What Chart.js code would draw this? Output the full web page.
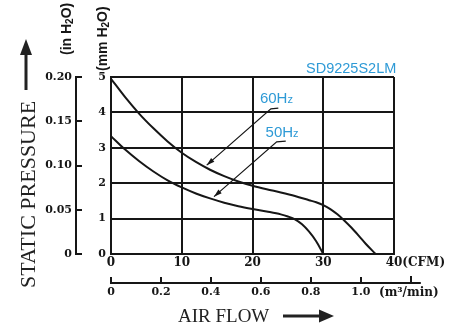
<!DOCTYPE html>
<html>
<head>
<meta charset="utf-8">
<script src="https://cdn.jsdelivr.net/npm/chart.js@4.4.1/dist/chart.umd.min.js"></script>
<style>
  html, body { margin: 0; padding: 0; background: #fff; }
</style>
</head>
<body>
<canvas id="pq" width="465" height="328"></canvas>
<script>
// P-Q curves for the SD9225S2LM fan, 60 Hz and 50 Hz supply
const flow60 = [0, 2, 4, 6, 8, 10, 12, 14, 16, 18, 20, 22, 24, 26, 28, 29, 30, 31, 32, 33, 34, 35, 36, 37.4];
const press60 = [4.95, 4.43, 3.96, 3.55, 3.18, 2.86, 2.6, 2.38, 2.2, 2.05, 1.93, 1.83, 1.74, 1.64, 1.52, 1.46, 1.38, 1.27, 1.12, 0.94, 0.74, 0.52, 0.29, 0];
const flow50 = [0, 2, 4, 6, 8, 10, 12, 14, 16, 18, 20, 22, 24, 25, 26, 27, 28, 29, 30];
const press50 = [3.33, 2.95, 2.62, 2.33, 2.08, 1.88, 1.71, 1.57, 1.45, 1.35, 1.27, 1.2, 1.12, 1.06, 0.98, 0.84, 0.63, 0.36, 0];

const cfmTicks = [0, 10, 20, 30, 40];
const m3Ticks = [0, 0.2, 0.4, 0.6, 0.8, 1.0];
const mmTicks = [0, 1, 2, 3, 4, 5];
const inchTicks = [0, 0.05, 0.10, 0.15, 0.20];

const CFM_PER_M3 = 35.315;
const ink = '#161616';
const blue = '#2e9ad6';
const serifBold = { family: 'DejaVu Serif', weight: 'bold' };

const toPoints = (xs, ys) => xs.map((x, i) => ({ x, y: ys[i] }));
const fixed = (vals) => (s) => { s.ticks = vals.map((v) => ({ value: v })); };

// text drawn along the vertical, reading bottom to top
function upText(ctx, parts, x, y) {
  ctx.save();
  ctx.translate(x, y);
  ctx.rotate(-Math.PI / 2);
  let cx = 0;
  parts.forEach((p) => {
    ctx.font = p.font;
    ctx.fillText(p.text, cx, p.dy || 0);
    cx += ctx.measureText(p.text).width;
  });
  ctx.restore();
}

function arrowHead(ctx, fromX, fromY, toX, toY, len, half) {
  const a = Math.atan2(toY - fromY, toX - fromX);
  ctx.beginPath();
  ctx.moveTo(toX, toY);
  ctx.lineTo(toX - len * Math.cos(a) + half * Math.sin(a), toY - len * Math.sin(a) - half * Math.cos(a));
  ctx.lineTo(toX - len * Math.cos(a) - half * Math.sin(a), toY - len * Math.sin(a) + half * Math.cos(a));
  ctx.closePath();
  ctx.fill();
}

const decor = {
  id: 'decor',
  afterDraw(chart) {
    const { ctx } = chart;
    const { x, y, x2 } = chart.scales;
    ctx.save();
    ctx.fillStyle = ink;
    ctx.strokeStyle = ink;

    // flow scale in m3/min runs a little past the plot frame
    const lineY = Math.round(x2.top);
    const endPx = x2.getPixelForValue(1.24);
    ctx.fillRect(x2.right, lineY - 1, endPx - x2.right, 2);
    const p12 = x2.getPixelForValue(1.2);
    ctx.fillRect(Math.round(p12) - 1, lineY - 7, 2, 7);
    ctx.font = 'bold 12px "DejaVu Serif"';
    ctx.textAlign = 'center';
    ctx.textBaseline = 'middle';
    ctx.fillText('(m³/min)', p12 - 2, lineY + 10);

    // CFM unit follows the last tick label
    const p40 = x.getPixelForValue(40);
    const w40 = ctx.measureText('40').width;
    ctx.textAlign = 'left';
    ctx.fillText('(CFM)', p40 + w40 / 2, x.top + 9);

    // unit captions above the two pressure scales
    const cap = 'bold 14px "Liberation Sans"';
    const sub = 'bold 10px "Liberation Sans"';
    upText(ctx, [{ text: '(in H', font: cap }, { text: '2', font: sub, dy: 3 }, { text: 'O)', font: cap }], 67, 55);
    upText(ctx, [{ text: '(mm H', font: cap }, { text: '2', font: sub, dy: 3 }, { text: 'O)', font: cap }], 103, 71);

    // axis titles with arrows
    ctx.fillStyle = '#222';
    ctx.textBaseline = 'alphabetic';
    upText(ctx, [{ text: 'STATIC PRESSURE', font: '22px "Liberation Serif"' }], 35, 288);
    ctx.fillRect(24.5, 52, 3, 38);
    arrowHead(ctx, 26, 90, 26, 39, 16, 6);

    ctx.font = '19px "Liberation Serif"';
    ctx.fillText('AIR FLOW', 178, 322);
    ctx.fillRect(283, 314.5, 38, 3);
    arrowHead(ctx, 283, 316, 334, 316, 15, 6.5);

    // model name and curve labels
    ctx.fillStyle = blue;
    ctx.font = '14.5px "Liberation Sans"';
    ctx.fillText('SD9225S2LM', 306, 73);

    const curveTags = [
      { hz: '60H', at: [21.05, 4.26], lead: [[23.65, 4.12], [22.6, 4.1], [13.53, 2.51]] },
      { hz: '50H', at: [21.85, 3.3], lead: [[24.7, 3.19], [23.42, 3.17], [14.56, 1.62]] }
    ];
    curveTags.forEach((tag) => {
      const lx = x.getPixelForValue(tag.at[0]);
      const ly = y.getPixelForValue(tag.at[1]);
      ctx.fillStyle = blue;
      ctx.font = '15px "Liberation Sans"';
      ctx.fillText(tag.hz, lx, ly);
      const wh = ctx.measureText(tag.hz).width;
      ctx.font = '11px "Liberation Sans"';
      ctx.fillText('z', lx + wh, ly);

      const pts = tag.lead.map((p) => [x.getPixelForValue(p[0]), y.getPixelForValue(p[1])]);
      ctx.strokeStyle = ink;
      ctx.fillStyle = ink;
      ctx.lineWidth = 1.2;
      ctx.beginPath();
      ctx.moveTo(pts[0][0], pts[0][1]);
      pts.slice(1).forEach((p) => ctx.lineTo(p[0], p[1]));
      ctx.stroke();
      const [b, t] = [pts[pts.length - 2], pts[pts.length - 1]];
      arrowHead(ctx, b[0], b[1], t[0], t[1], 8, 2.5);
    });
    ctx.restore();
  }
};

new Chart(document.getElementById('pq'), {
  type: 'line',
  data: {
    datasets: [
      { label: '60Hz', data: toPoints(flow60, press60) },
      { label: '50Hz', data: toPoints(flow50, press50) }
    ]
  },
  options: {
    responsive: false,
    animation: false,
    parsing: false,
    layout: { padding: { left: 36, right: 71, top: 77, bottom: 25 } },
    elements: {
      line: { borderColor: ink, borderWidth: 2, cubicInterpolationMode: 'monotone', fill: false },
      point: { radius: 0 }
    },
    plugins: { legend: { display: false }, tooltip: { enabled: false } },
    scales: {
      x: {
        type: 'linear', position: 'bottom', min: 0, max: 40,
        afterBuildTicks: fixed(cfmTicks),
        afterFit: (s) => { s.height = 29; },
        grid: { color: ink, lineWidth: 2, drawTicks: false },
        border: { color: ink, width: 2 },
        ticks: { color: ink, font: { ...serifBold, size: 12 }, padding: 2, maxRotation: 0, autoSkip: false }
      },
      x2: {
        type: 'linear', position: 'bottom', weight: 1, min: 0, max: 40 / CFM_PER_M3,
        afterBuildTicks: fixed(m3Ticks),
        afterFit: (s) => { s.height = 20; },
        grid: { drawOnChartArea: false, color: ink, lineWidth: 2, tickLength: -6 },
        border: { color: ink, width: 2 },
        ticks: {
          color: ink, font: { ...serifBold, size: 11 }, padding: 9, maxRotation: 0, autoSkip: false,
          callback: (v) => (v === 0 ? '0' : v.toFixed(1))
        }
      },
      y: {
        position: 'left', min: 0, max: 5,
        afterBuildTicks: fixed(mmTicks),
        afterFit: (s) => { s.width = 35; },
        grid: { color: ink, lineWidth: 2, drawTicks: false },
        border: { color: ink, width: 2 },
        ticks: { color: ink, font: { ...serifBold, size: 11 }, padding: 5, autoSkip: false }
      },
      y2: {
        position: 'left', weight: 1, min: 0, max: 0.2,
        afterBuildTicks: fixed(inchTicks),
        afterFit: (s) => { s.width = 40; },
        grid: { drawOnChartArea: false, color: ink, lineWidth: 2, tickLength: -6 },
        border: { color: ink, width: 2 },
        ticks: {
          color: ink, font: { ...serifBold, size: 11 }, padding: 10, autoSkip: false,
          callback: (v) => (v === 0 ? '0' : v.toFixed(2))
        }
      }
    }
  },
  plugins: [decor]
});
</script>
</body>
</html>
